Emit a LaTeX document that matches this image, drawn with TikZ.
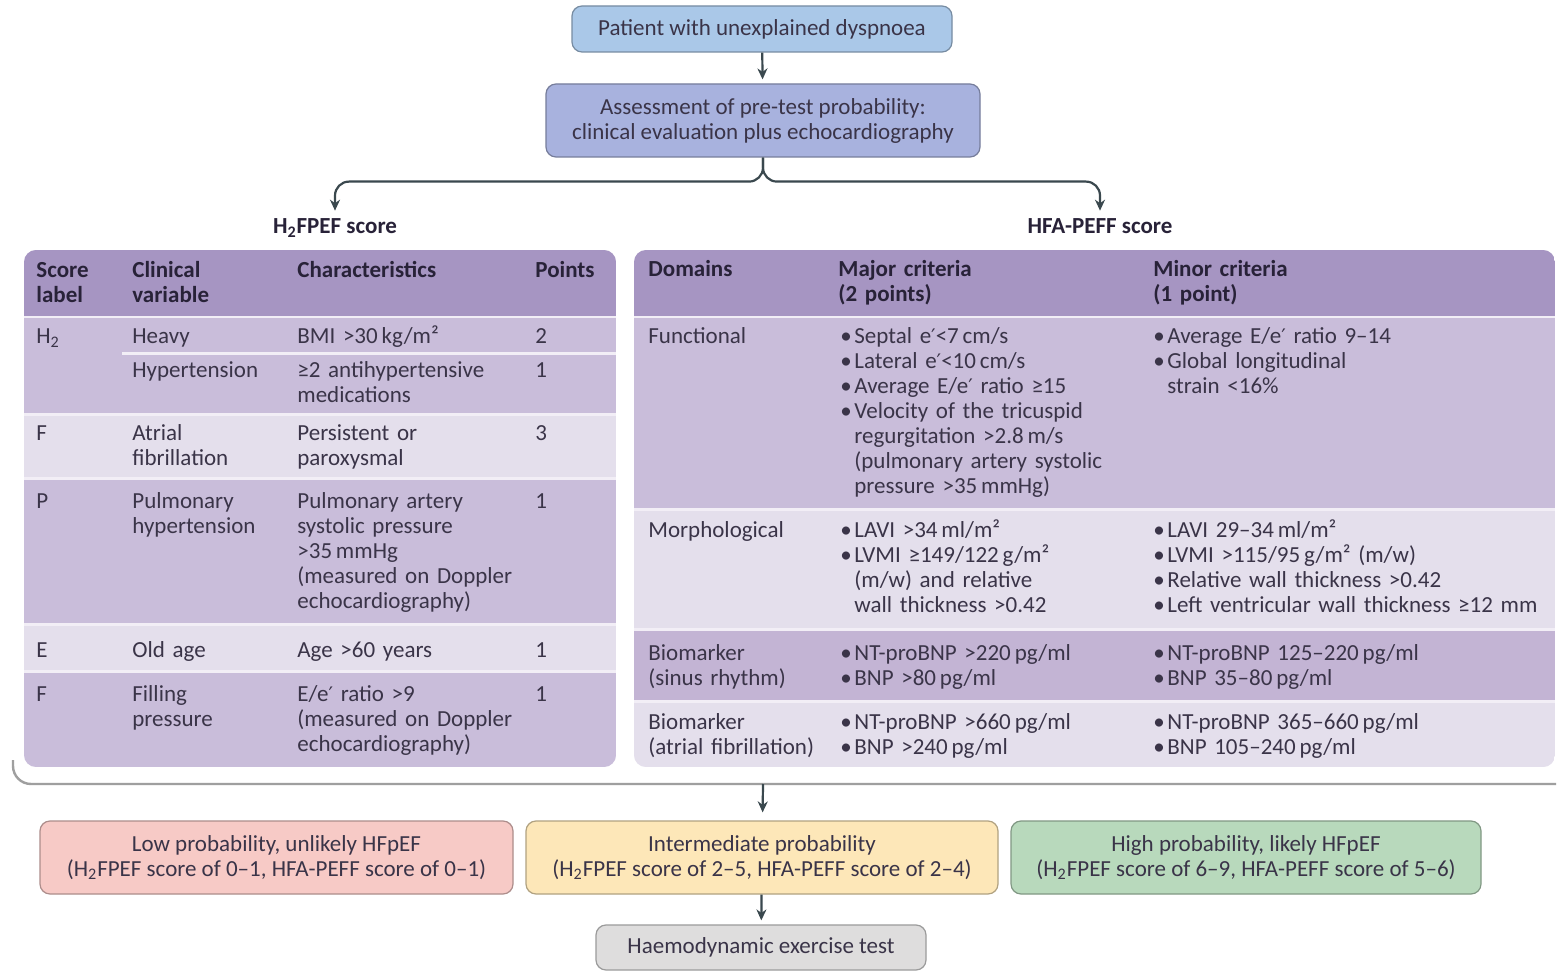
\documentclass[tikz,border=0pt]{standalone}
\usepackage{fontspec}
\setmainfont{Carlito}
\newfontfamily\symfont{DejaVu Sans}
\usetikzlibrary{arrows.meta}
\definecolor{txt}{RGB}{58,52,72}
\definecolor{hdtxt}{RGB}{40,34,56}
\definecolor{conn}{RGB}{58,72,78}
\definecolor{hdr}{RGB}{166,149,194}
\definecolor{rowa}{RGB}{201,189,218}
\definecolor{rowb}{RGB}{228,223,236}
\definecolor{rowc}{RGB}{195,180,212}
\definecolor{gapc}{RGB}{242,238,246}
\definecolor{bluea}{RGB}{170,200,232}
\definecolor{blueb}{RGB}{168,178,222}
\definecolor{lowc}{RGB}{247,202,198}
\definecolor{midc}{RGB}{253,231,184}
\definecolor{highc}{RGB}{184,217,188}
\definecolor{greyc}{RGB}{222,221,221}
\newcommand\itm{\makebox[7pt][l]{\textbullet}}
\newcommand\cont{\\\hspace*{7pt}}
\newcommand\sq{²}
\newcommand\pr{{\symfont\fontsize{10}{12}\selectfont ′}}
\newcommand\Htwo{H\textsubscript{2}}

\begin{document}
\begin{tikzpicture}[x={(0.5pt,0)},y={(0,-0.5pt)},
    every node/.style={font=\fontsize{11.5}{12.5}\selectfont,text=txt,inner sep=0pt},
    flow/.style={draw=#1!70!black,fill=#1,rounded corners=5pt,line width=0.6pt,
        align=center,minimum height=36.5pt},
    cell/.style={anchor=base west,align=left},
    head/.style={cell,font=\fontsize{11.5}{12.5}\selectfont\bfseries,text=hdtxt},
    arr/.style={draw=conn,line width=1.1pt,-{Stealth[length=5.5pt,width=5pt]}}]
    \fill[white] (0,0) rectangle (1558,972);
    \useasboundingbox (0,0) rectangle (1558,972);

    \node[flow=bluea,minimum width=190pt,minimum height=23pt] (patient) at (762,29)
        {Patient with unexplained dyspnoea};
    \node[flow=blueb,minimum width=217pt] (assess) at (763,120.5)
        {Assessment of pre-test probability:\\clinical evaluation plus echocardiography};
    \node[font=\fontsize{11.5}{12.5}\selectfont\bfseries,text=hdtxt,anchor=base] (h2title) at (335,234)
        {\Htwo FPEF score};
    \node[font=\fontsize{11.5}{12.5}\selectfont\bfseries,text=hdtxt,anchor=base] (hfatitle) at (1100,234)
        {HFA-PEFF score};

    \draw[arr,shorten >=2pt] (patient) -- (assess);
    \draw[arr,rounded corners=7pt,shorten >=4pt] (assess.south) -- ++(0,24) -| (h2title.north);
    \draw[arr,rounded corners=7pt,shorten >=4pt] (assess.south) -- ++(0,24) -| (hfatitle.north);

    \begin{scope}
        \clip[rounded corners=6pt] (24,250) rectangle (616,767);
        \fill[gapc] (24,250) rectangle (616,767);
        \foreach \ya/\yb/\cc in {250/316/hdr,318/413/rowa,416/477/rowb,
                480/623/rowa,626/670/rowb,673/767/rowa}
            \fill[\cc] (24,\ya) rectangle (616,\yb);
        \draw[gapc,line width=1.5pt] (122,354) -- (616,354);
    \end{scope}
    \begin{scope}
        \clip[rounded corners=6pt] (634,250) rectangle (1555,767);
        \fill[gapc] (634,250) rectangle (1555,767);
        \foreach \ya/\yb/\cc in {250/316/hdr,318/508/rowa,511/628/rowb,
                631/700/rowc,703/767/rowb}
            \fill[\cc] (634,\ya) rectangle (1555,\yb);
    \end{scope}

    \node[head,text width=45pt] (slab) at (36,278) {Score\\label};
    \node[head,text width=80pt] (cvar) at (132,278) {Clinical\\variable};
    \node[head,text width=118pt] (chars) at (297,278) {Characteristics};
    \node[head,text width=40pt] (pts) at (535,278) {Points};

    \foreach \nm/\yy/\lab in {lh/344/\Htwo,lf/441/F,lp/509/P,le/657/E,lfp/701/F}
        \node[cell] (\nm) at (36,\yy) {\lab};
    \foreach \nm/\yy/\pt in {pa/344/2,pb/378/1,pc/441/3,pd/509/1,pe/657/1,pf/701/1}
        \node[cell] (\nm) at (535,\yy) {\pt};

    \node[cell,text width=80pt] (vheavy) at (132,344) {Heavy};
    \node[cell,text width=80pt] (vhyp) at (132,378) {Hypertension};
    \node[cell,text width=80pt] (vaf) at (132,441) {Atrial\\fibrillation};
    \node[cell,text width=80pt] (vph) at (132,509) {Pulmonary\\hypertension};
    \node[cell,text width=80pt] (vage) at (132,657) {Old age};
    \node[cell,text width=80pt] (vfill) at (132,701) {Filling\\pressure};

    \node[cell,text width=118pt] (cheavy) at (297,344) {BMI >30\,kg/m\sq};
    \node[cell,text width=118pt] (chyp) at (297,378) {≥2 antihypertensive\\medications};
    \node[cell,text width=118pt] (caf) at (297,441) {Persistent or\\paroxysmal};
    \node[cell,text width=118pt] (cph) at (297,509)
        {Pulmonary artery\\systolic pressure\\>35\,mmHg\\(measured on Doppler\\echocardiography)};
    \node[cell,text width=118pt] (cage) at (297,657) {Age >60 years};
    \node[cell,text width=118pt] (cfill) at (297,701)
        {E/e\pr{} ratio >9\\(measured on Doppler\\echocardiography)};

    \node[head,text width=90pt] (dom) at (648,277) {Domains};
    \node[head,text width=150pt] (major) at (838,277) {Major criteria\\(2 points)};
    \node[head,text width=190pt] (minor) at (1153,277) {Minor criteria\\(1 point)};

    \node[cell,text width=90pt] (dfun) at (648,344) {Functional};
    \node[cell,text width=90pt] (dmor) at (648,538) {Morphological};
    \node[cell,text width=90pt] (dbsr) at (648,661) {Biomarker\\(sinus rhythm)};
    \node[cell,text width=95pt] (dbaf) at (648,729) {Biomarker\\(atrial fibrillation)};

    \node[cell,text width=150pt] (mjfun) at (840,344)
        {\itm Septal e\pr{}<7\,cm/s\\\itm Lateral e\pr{}<10\,cm/s\\\itm Average E/e\pr{} ratio ≥15\\
         \itm Velocity of the tricuspid\cont regurgitation >2.8\,m/s
         \cont (pulmonary artery systolic\cont pressure >35\,mmHg)};
    \node[cell,text width=190pt] (mnfun) at (1153,344)
        {\itm Average E/e\pr{} ratio 9--14\\\itm Global longitudinal\cont strain <16\%};
    \node[cell,text width=150pt] (mjmor) at (840,538)
        {\itm LAVI >34\,ml/m\sq\\\itm LVMI ≥149/122\,g/m\sq\cont (m/w) and relative\cont wall thickness >0.42};
    \node[cell,text width=200pt] (mnmor) at (1153,538)
        {\itm LAVI 29--34\,ml/m\sq\\\itm LVMI >115/95\,g/m\sq\ (m/w)\\
         \itm Relative wall thickness >0.42\\\itm Left ventricular wall thickness ≥12 mm};
    \node[cell,text width=150pt] (mjbsr) at (840,661)
        {\itm NT-proBNP >220\,pg/ml\\\itm BNP >80\,pg/ml};
    \node[cell,text width=190pt] (mnbsr) at (1153,661)
        {\itm NT-proBNP 125--220\,pg/ml\\\itm BNP 35--80\,pg/ml};
    \node[cell,text width=150pt] (mjbaf) at (840,729)
        {\itm NT-proBNP >660\,pg/ml\\\itm BNP >240\,pg/ml};
    \node[cell,text width=190pt] (mnbaf) at (1153,729)
        {\itm NT-proBNP 365--660\,pg/ml\\\itm BNP 105--240\,pg/ml};

    \draw[gray!75,line width=1.2pt,rounded corners=9pt] (13,760) |- (1556,784);
    \coordinate (brk) at (763,784);

    \node[flow=lowc,minimum width=236.5pt] (low) at (276.5,857.5)
        {Low probability, unlikely HFpEF\\(\Htwo FPEF score of 0--1, HFA-PEFF score of 0--1)};
    \node[flow=midc,minimum width=236pt] (mid) at (762,857.5)
        {Intermediate probability\\(\Htwo FPEF score of 2--5, HFA-PEFF score of 2--4)};
    \node[flow=highc,minimum width=235pt] (high) at (1246,857.5)
        {High probability, likely HFpEF\\(\Htwo FPEF score of 6--9, HFA-PEFF score of 5--6)};
    \node[flow=greyc,minimum width=165pt,minimum height=22.5pt] (haemo) at (761,947.5)
        {Haemodynamic exercise test};

    \draw[arr,shorten >=4pt] (brk) -- (mid);
    \draw[arr,shorten >=2pt] (mid) -- (haemo);
\end{tikzpicture}
\end{document}
